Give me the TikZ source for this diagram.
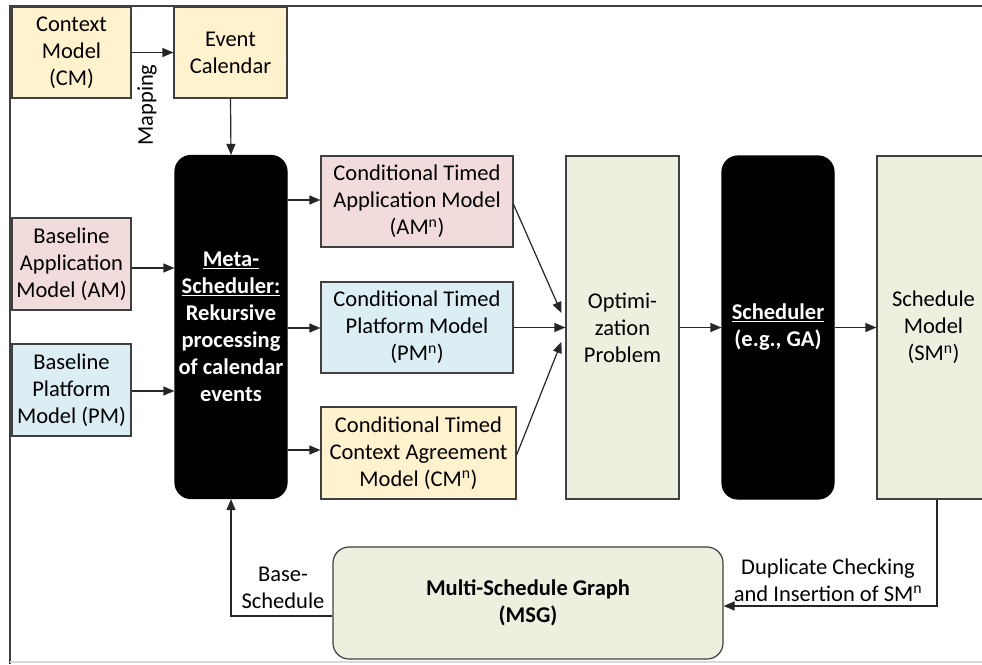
\documentclass[tikz,border=0pt]{standalone}
\usepackage{fontspec}
\setmainfont{Carlito}
\usetikzlibrary{arrows.meta}
\definecolor{cyel}{HTML}{FFF2CC}
\definecolor{cred}{HTML}{F2DCDB}
\definecolor{cblu}{HTML}{DAEEF3}
\definecolor{cgrn}{HTML}{EBF1DE}
\definecolor{cline}{HTML}{404040}
\definecolor{carr}{HTML}{262626}
\begin{document}
\begin{tikzpicture}[x=1pt,y=-1pt,
  txt/.style={font=\fontsize{22.5}{27}\selectfont, align=center},
  box/.style={txt, draw=cline, line width=1.2pt, inner sep=0pt},
  blk/.style={box, fill=black, draw=black, text=white, rounded corners=16pt, font=\fontsize{22.5}{27}\selectfont\bfseries},
  arr/.style={-{Triangle[length=11pt,width=9pt]}, line width=1.2pt, draw=carr},
  lbl/.style={txt, inner sep=1pt}]
\clip (0,0) rectangle (982,664);
\fill[white] (0,0) rectangle (982,664);
% frame
\draw[cline, line width=2pt] (10,664) -- (10,6) -- (982,6);
\draw[black!15, line width=1.5pt] (10,662) -- (982,662);
% nodes
\node[box, fill=cyel, minimum width=119pt, minimum height=91pt] (cm) at (71.5,52.5) {Context\\Model\\(CM)};
\node[box, fill=cyel, minimum width=113pt, minimum height=91pt] (ec) at (230.5,52.5) {Event\\Calendar};
\node[box, fill=cred, minimum width=119pt, minimum height=92pt] (bam) at (71.5,264) {Baseline\\Application\\Model (AM)};
\node[box, fill=cblu, minimum width=119pt, minimum height=92pt] (bpm) at (71.5,390) {Baseline\\Platform\\Model (PM)};
\node[blk, minimum width=112pt, minimum height=343pt] (meta) at (231,327) {\underline{Meta-}\\\underline{Scheduler:}\\Rekursive\\processing\\of calendar\\events};
\node[box, fill=cred, minimum width=192pt, minimum height=91pt] (ctam) at (417,201.5) {Conditional Timed\\Application Model\\(AM\textsuperscript{n})};
\node[box, fill=cblu, minimum width=192pt, minimum height=91pt] (ctpm) at (417,327.5) {Conditional Timed\\Platform Model\\(PM\textsuperscript{n})};
\node[box, fill=cyel, minimum width=195pt, minimum height=92pt] (ctcm) at (418.5,453) {Conditional Timed\\Context Agreement\\Model (CM\textsuperscript{n})};
\node[box, fill=cgrn, minimum width=113pt, minimum height=343pt] (opt) at (622.5,327.5) {Optimi-\\zation\\Problem};
\node[blk, minimum width=112pt, minimum height=343pt] (sched) at (778,327.5) {\underline{Scheduler}\\(e.g., GA)};
\node[box, fill=cgrn, minimum width=113pt, minimum height=343pt] (sm) at (933.5,327.5) {Schedule\\Model\\(SM\textsuperscript{n})};
\node[box, fill=cgrn, rounded corners=16pt, minimum width=390pt, minimum height=112pt, font=\fontsize{22.5}{27}\selectfont\bfseries] (msg) at (528,603) {Multi-Schedule Graph\\(MSG)};
% connectors
\draw[arr] (cm.east) -- (ec.west);
\node[lbl, rotate=90] (maplbl) at (147,105) {Mapping};
\draw[arr] (ec.south) -- (meta.north);
\draw[arr] ([yshift=-4pt]bam.east) -- ([yshift=-4pt]bam.east -| meta.west);
\draw[arr] ([yshift=-1pt]bpm.east) -- ([yshift=-1pt]bpm.east -| meta.west);
\draw[arr] ([yshift=1.5pt]ctam.west -| meta.east) -- ([yshift=1.5pt]ctam.west);
\draw[arr] ([yshift=-0.5pt]ctpm.west -| meta.east) -- ([yshift=-0.5pt]ctpm.west);
\draw[arr] ([yshift=3pt]ctcm.west -| meta.east) -- ([yshift=3pt]ctcm.west);
\draw[arr] ([yshift=-3pt]ctam.east) -- ([xshift=-4pt,yshift=14.5pt]opt.west);
\draw[arr] (ctpm.east) -- (opt.west);
\draw[arr] ([yshift=-2pt]ctcm.east) -- ([xshift=-4pt,yshift=-14.5pt]opt.west);
\draw[arr] (opt.east) -- (sched.west);
\draw[arr] (sched.east) -- (sm.west);
\draw[arr] ([xshift=3.5pt]sm.south) |- ([yshift=-3pt]msg.east);
\node[lbl] (duplbl) at (828,580) {Duplicate Checking\\and Insertion of SM\textsuperscript{n}};
\draw[arr] ([yshift=-13pt]msg.west) -| (meta.south);
\node[lbl] (baselbl) at (283,588) {Base-\\Schedule};
\end{tikzpicture}
\end{document}
